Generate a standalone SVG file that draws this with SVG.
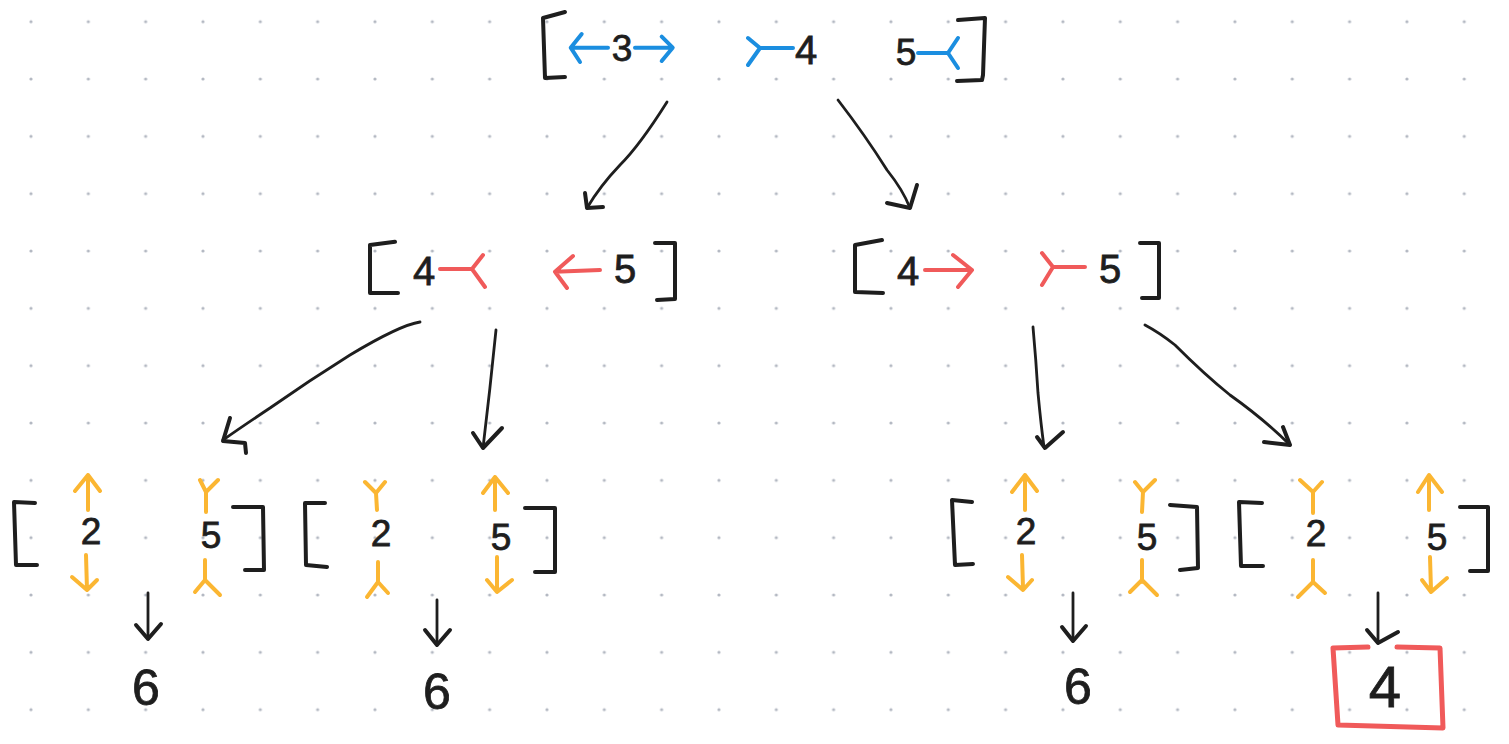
<svg xmlns="http://www.w3.org/2000/svg" width="1509" height="744" viewBox="0 0 1509 744">
<defs>
<pattern id="dots" x="2.33" y="-6.97" width="57.33" height="57.33" patternUnits="userSpaceOnUse">
<circle cx="28.67" cy="28.67" r="1.6" fill="#b3b8c2"/>
</pattern>
<style>
.br{fill:none;stroke:#1e1e1e;stroke-width:4;stroke-linecap:round;stroke-linejoin:round}
.bl{fill:none;stroke:#1b8ee0;stroke-width:4;stroke-linecap:round;stroke-linejoin:round}
.rd{fill:none;stroke:#f05a5a;stroke-width:4;stroke-linecap:round;stroke-linejoin:round}
.bx{fill:none;stroke:#f05a5a;stroke-width:5;stroke-linecap:round;stroke-linejoin:round}
.or{fill:none;stroke:#fbb632;stroke-width:4;stroke-linecap:round;stroke-linejoin:round}
.cn{fill:none;stroke:#1e1e1e;stroke-width:2.8;stroke-linecap:round;stroke-linejoin:round}
.ch{fill:none;stroke:#1e1e1e;stroke-width:4;stroke-linecap:round;stroke-linejoin:round}
text{font-family:"Liberation Sans",Arial,sans-serif;fill:#1e1e1e;text-anchor:middle;stroke:#1e1e1e;stroke-width:0.8}
.t1{font-size:37px}
.t2{font-size:40px}
.t3{font-size:37px}
.t6{font-size:50px}
</style>
</defs>
<rect width="1509" height="744" fill="#ffffff"/>
<rect width="1509" height="744" fill="url(#dots)"/>

<g id="node-top">
<path class="br" d="M565 12 L543 18 L545 78 L565 77"/>
<path class="br" d="M958 20 L985 18 L983 75 L982 80 L957 81"/>
<path class="bl" d="M572 47.7 L608 47.7 M581.7 34 L570.7 47.7 L580 62"/>
<text class="t1" x="622" y="61">3</text>
<path class="bl" d="M635 47.7 L672 47.7 M661.7 36.7 L672.7 47.7 L661.7 61"/>
<path class="bl" d="M748 38 L760 48 L748 65 M760 48 L793 48"/>
<text class="t2" x="806" y="64">4</text>
<text class="t1" x="906" y="65">5</text>
<path class="bl" d="M918 53 L948 53 M958 38 L948 53 L958 68"/>
</g>

<g id="node-mid-left">
<path class="br" d="M395 241.7 L370 245 L370 293 L398 293"/>
<path class="br" d="M655 243 L675 243 L675 299 L657 300"/>
<text class="t2" x="424" y="285">4</text>
<path class="rd" d="M440 269 L472 269 M483 255 L472 269 L485 287"/>
<path class="rd" d="M600 270 L555 271.7 M573 256 L555 271.7 L567 288"/>
<text class="t2" x="625" y="283">5</text>
</g>

<g id="node-mid-right">
<path class="br" d="M882 240 L855 245 L855 292 L883 293"/>
<path class="br" d="M1140 243 L1159 243 L1159 298 L1142 298"/>
<text class="t2" x="908" y="285">4</text>
<path class="rd" d="M925 270 L972 270 M953 255 L972 270 L958 287"/>
<path class="rd" d="M1042 253 L1053 267 L1042 285 M1053 267 L1085 267"/>
<text class="t2" x="1110" y="283">5</text>
</g>

<g id="node-bottom-1">
<path class="br" d="M35 503 L14 502 L16 565 L37 565"/>
<path class="br" d="M233 507 L263 507 L264 570 L245 570"/>
<path class="or" d="M88 510 L88 475 M75 491 L88 475 L100 491"/>
<text class="t3" x="91" y="544">2</text>
<path class="or" d="M86 555 L87 590 M72 577 L87 590 L97 580"/>
<path class="or" d="M200 480 L206 492 L218 480 M206 492 L206 512"/>
<text class="t3" x="211" y="548">5</text>
<path class="or" d="M205 560 L205 580 M195 592 L205 580 L220 595"/>
</g>

<g id="node-bottom-2">
<path class="br" d="M325 503 L305 503 L306 565 L327 567"/>
<path class="br" d="M525 508 L555 508 L555 572 L535 572"/>
<path class="or" d="M365 482 L376 493 L385 482 M376 493 L377 510"/>
<text class="t3" x="381" y="546">2</text>
<path class="or" d="M378 562 L378 582 M367 597 L378 582 L388 593"/>
<path class="or" d="M495 510 L495 477 M483 493 L495 477 L508 493"/>
<text class="t3" x="501" y="550">5</text>
<path class="or" d="M497 557 L497 591 M487 580 L497 592 L512 580"/>
</g>

<g id="node-bottom-3">
<path class="br" d="M972 502 L952 500 L955 565 L973 564"/>
<path class="br" d="M1170 505 L1197 507 L1198 568 L1180 570"/>
<path class="or" d="M1025 510 L1025 475 M1012 492 L1025 475 L1037 491"/>
<text class="t3" x="1026" y="544">2</text>
<path class="or" d="M1022 555 L1023 588 M1008 577 L1023 590 L1032 580"/>
<path class="or" d="M1135 482 L1143 492 L1155 480 M1143 492 L1142 512"/>
<text class="t3" x="1147" y="550">5</text>
<path class="or" d="M1142 560 L1142 582 M1130 592 L1142 580 L1157 595"/>
</g>

<g id="node-bottom-4">
<path class="br" d="M1262 503 L1239 502 L1241 566 L1263 566"/>
<path class="br" d="M1460 507 L1488 507 L1488 571 L1470 571"/>
<path class="or" d="M1300 480 L1313 492 L1322 482 M1313 492 L1313 513"/>
<text class="t3" x="1316" y="546">2</text>
<path class="or" d="M1313 560 L1313 583 M1298 597 L1313 582 L1325 593"/>
<path class="or" d="M1429 510 L1429 476 M1418 492 L1429 475 L1442 492"/>
<text class="t3" x="1437" y="550">5</text>
<path class="or" d="M1430 557 L1431 590 M1422 580 L1431 592 L1447 578"/>
</g>

<g id="result-1">
<text class="t6" x="146" y="705">6</text>
</g>
<g id="result-2">
<text class="t6" x="437" y="709">6</text>
</g>
<g id="result-3">
<text class="t6" x="1078" y="704">6</text>
</g>
<g id="result-4">
<path class="bx" d="M1368 647 L1333 648 L1338 725 L1443 728 L1440 648 L1397 647"/>
<text class="t6" x="1385" y="707" style="font-size:58px">4</text>
</g>

<g id="connectors">
<path class="cn" d="M667 102 Q640 145 620 165 Q600 186 587 208"/>
<path class="ch" d="M585 193 L587 208 L603 207"/>
<path class="cn" d="M838 100 Q865 135 887 170 Q903 190 910 208"/>
<path class="ch" d="M887 203 L910 208 L917 185"/>
<path class="cn" d="M420 322 Q400 325 350 355 Q310 380 270 408 Q240 428 223 440"/>
<path class="ch" d="M230 418 L223 441 L245 443 L246 453"/>
<path class="cn" d="M496 330 Q490 390 483 448"/>
<path class="ch" d="M473 433 L483 448 L502 428"/>
<path class="cn" d="M1033 327 Q1036 360 1038 393 Q1041 425 1044 447"/>
<path class="ch" d="M1037 437 L1045 448 L1063 432"/>
<path class="cn" d="M1145 325 Q1160 333 1175 345 Q1205 375 1230 395 Q1265 420 1290 445"/>
<path class="ch" d="M1264 442 L1290 445 L1283 427"/>
<path class="cn" d="M148 593 L148 638"/>
<path class="ch" d="M136 625 L148 639 L161 624"/>
<path class="cn" d="M437 600 L437 644"/>
<path class="ch" d="M425 630 L437 645 L450 630"/>
<path class="cn" d="M1073 593 L1073 639"/>
<path class="ch" d="M1062 627 L1073 641 L1086 626"/>
<path class="cn" d="M1378 593 L1378 643"/>
<path class="ch" d="M1367 630 L1378 643 L1398 632"/>
</g>
</svg>
